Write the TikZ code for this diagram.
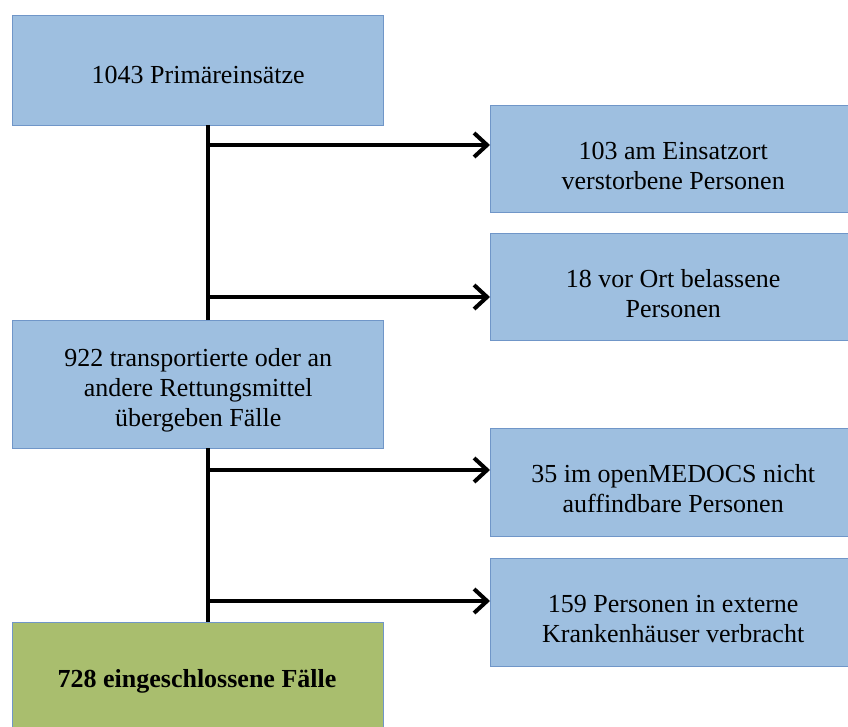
\documentclass[tikz,border=0pt]{standalone}
\usepackage{fontspec}
\setmainfont{Liberation Serif}
\usetikzlibrary{arrows.meta}
\definecolor{boxblue}{RGB}{158,191,224}
\definecolor{edgeblue}{RGB}{112,150,200}
\definecolor{boxgreen}{RGB}{169,190,110}
\newcommand{\lowr}{\rule{0pt}{30pt}}
\tikzset{
  box/.style={draw=edgeblue, line width=1.4pt, fill=boxblue, align=center,
    font=\fontsize{26}{30}\selectfont, inner sep=0pt, anchor=north west},
  greenbox/.style={box, fill=boxgreen},
  flow/.style={line width=4pt, -{Straight Barb[length=13pt,width=24pt,line width=4pt]}},
  trunk/.style={line width=4pt}
}
\begin{document}
\begin{tikzpicture}[x=1pt,y=-1pt]
\useasboundingbox (0,0) rectangle (848,727);
\clip (0,0) rectangle (848,727);
\node[box, minimum width=371pt, minimum height=110pt] (top) at (12,15) {\rule{0pt}{25pt}1043 Primäreinsätze};
\node[box, minimum width=365pt, minimum height=107pt] (r1) at (490,105) {\lowr 103 am Einsatzort\\verstorbene Personen};
\node[box, minimum width=365pt, minimum height=107pt] (r2) at (490,233) {\lowr 18 vor Ort belassene\\Personen};
\node[box, minimum width=371pt, minimum height=128pt] (mid) at (12,320) {\lowr 922 transportierte oder an\\andere Rettungsmittel\\übergeben Fälle};
\node[box, minimum width=365pt, minimum height=108pt] (r3) at (490,428) {\lowr 35 im openMEDOCS nicht\\auffindbare Personen};
\node[box, minimum width=365pt, minimum height=108pt] (r4) at (490,558) {\lowr 159 Personen in externe\\Krankenhäuser verbracht};
\node[greenbox, minimum width=371pt, minimum height=115pt] (fin) at (12,622) {};
\node[font=\fontsize{26}{31}\selectfont\bfseries] (fintext) at (197,681) {728 eingeschlossene Fälle};
\coordinate (t1) at (208,125);
\coordinate (b1) at (208,320);
\coordinate (t2) at (208,448);
\coordinate (b2) at (208,622);
\draw[trunk] (t1) -- (b1);
\draw[trunk] (t2) -- (b2);
\coordinate (a1) at (208,145);
\coordinate (a2) at (208,297);
\coordinate (a3) at (208,470);
\coordinate (a4) at (208,601);
\draw[flow] (a1) -- (a1 -| r1.west);
\draw[flow] (a2) -- (a2 -| r2.west);
\draw[flow] (a3) -- (a3 -| r3.west);
\draw[flow] (a4) -- (a4 -| r4.west);
\end{tikzpicture}
\end{document}
